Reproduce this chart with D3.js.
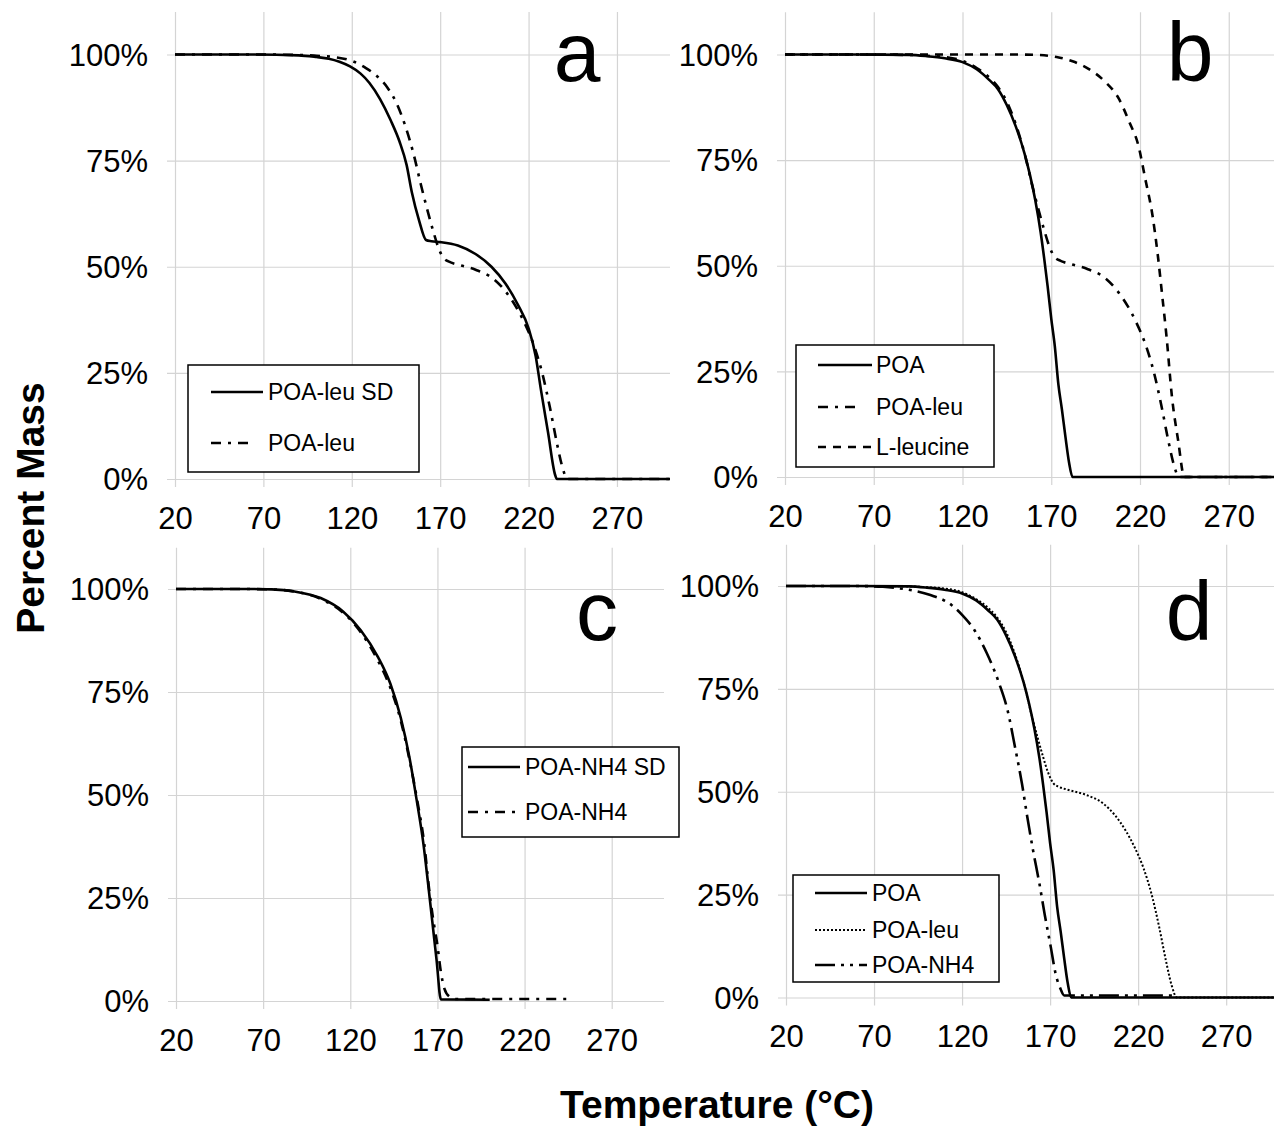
<!DOCTYPE html>
<html><head><meta charset="utf-8">
<script src="https://cdn.jsdelivr.net/npm/d3@7"></script>
<style>
body{margin:0;background:#fff}
svg{display:block}
text{font-family:"Liberation Sans",Arial,sans-serif;fill:#000}
</style>
</head><body>
<svg id="chart" width="1274" height="1129"></svg>
<script>
// ---------- data ----------
const panelLetters = ["a", "b", "c", "d"];
const tempTicks = [20, 70, 120, 170, 220, 270];
const massTicks = [0, 25, 50, 75, 100];
const xTitle = "Temperature (°C)";
const yTitle = "Percent Mass";

const poaTemp = [20,60,90,100,110,120,128,135,140,145,150,155,158,161,164,166,168,170,172,174,176,178,180,182,300];
const poaMass = [100,100,99.9,99.6,99.1,98.2,96.5,94,91.8,88,83,76.5,71.5,65.5,58,51.8,45,37.5,31,22,16,9.5,3.5,0,0];

const poaLeuTemp = [20,60,90,100,110,120,128,134,140,145,150,155,159,163,166,169,172,175,180,190,200,207,213,218,223,228,232,236,239,242,300];
const poaLeuMass = [100,100,99.9,99.7,99.4,98.5,96.8,95,92.3,88.8,83.5,76.5,69.5,63,58.5,54.5,52,51.2,50.5,49.3,47.2,44.2,40.5,36.5,31.5,24.5,17,8.5,3,0,0];

const poaLeuSdTemp = [20,60,90,100,107,113,119,125,130,136,142,147,151,154,158,162,165,170,180,190,199,207,214,220,224,227,231,235,236,300];
const poaLeuSdMass = [100,100,99.8,99.4,99,98.3,97.2,95.5,93.3,89.5,84.5,79.5,74,67.5,61,56.3,56,55.8,55,53,50,46,41,35.5,29,21,11,1,0,0];

const leucineTemp = [20,100,150,162,173,182,191,200,208,214,219,223,227,230,232.5,235,238,241.5,245,300];
const leucineMass = [100,100,100,99.9,99.4,98.4,96.6,93.7,89.6,84,78.6,70.5,62,52.6,43,33,19,8.6,0,0];

const poaNh4SdTemp = [20,60,75,88,103,116,126,136,143,149,154,158,162,164.5,167,169.5,172,200];
const poaNh4SdMass = [100,100,99.9,99.4,97.8,94.5,90,83.4,77,68.7,59,49,38,29,19.5,10,0.4,0.3];

const poaNh4cTemp = [20,60,75,88,103,116,126,136,143,149,154,158.5,162.5,165,167.5,170,172,174,177,180,245];
const poaNh4cMass = [100,100,99.9,99.4,97.6,94.2,89.5,82.5,76,68,58.5,48.5,38,28,20,13.5,7,3,1,0.5,0.5];

const poaNh4dTemp = [20,60,75,88,102,114,120,127,134,141,146,150,154,157,160,164,167,170.5,173,176,178,240];
const poaNh4dMass = [100,100,99.8,99.2,97.8,95.4,93,89.3,83.7,76.4,69.5,61,52,44,36.5,27.5,20,12,6,2,0.5,0.5];

const seriesA = [
  {name: "POA-leu SD", temp: poaLeuSdTemp, mass: poaLeuSdMass, style: "solid"},
  {name: "POA-leu", temp: poaLeuTemp, mass: poaLeuMass, style: "dashdot"}
];
const seriesB = [
  {name: "POA", temp: poaTemp, mass: poaMass, style: "solid"},
  {name: "POA-leu", temp: poaLeuTemp, mass: poaLeuMass, style: "dashdot"},
  {name: "L-leucine", temp: leucineTemp, mass: leucineMass, style: "dash"}
];
const seriesC = [
  {name: "POA-NH4 SD", temp: poaNh4SdTemp, mass: poaNh4SdMass, style: "solid"},
  {name: "POA-NH4", temp: poaNh4cTemp, mass: poaNh4cMass, style: "dashdot"}
];
const seriesD = [
  {name: "POA", temp: poaTemp, mass: poaMass, style: "solid"},
  {name: "POA-leu", temp: poaLeuTemp, mass: poaLeuMass, style: "dot"},
  {name: "POA-NH4", temp: poaNh4dTemp, mass: poaNh4dMass, style: "longdashdotdot"}
];

// ---------- layout / styles ----------
const styles = {
  solid: {dash: null, width: 2.6},
  dashdot: {dash: "10,7,3,7", width: 2.6},
  dash: {dash: "8,7", width: 2.6},
  dot: {dash: "2,2", width: 2},
  longdashdotdot: {dash: "20,6,3,6,3,6", width: 2.6}
};

const panels = [
  {series: seriesA, x0: 175, x1: 670, y0: 479, y100: 54.5, letterX: 577, letterY: 81,
   legend: {box: [188, 365, 419, 472], rows: [392, 443], lx: [[211, 263], [211, 255]], tx: 268}},
  {series: seriesB, x0: 785, x1: 1282, y0: 477, y100: 54.5, letterX: 1190, letterY: 81,
   legend: {box: [796, 345, 994, 467], rows: [365, 407, 447], lx: [[818, 872], [818, 862], [818, 872]], tx: 876}},
  {series: seriesC, x0: 176, x1: 664, y0: 1001, y100: 589, letterX: 597, letterY: 640,
   legend: {box: [462, 747, 679, 837], rows: [767, 812], lx: [[468, 520], [468, 515]], tx: 525}},
  {series: seriesD, x0: 786, x1: 1279, y0: 997.5, y100: 586, letterX: 1189, letterY: 640,
   legend: {box: [793, 875, 999, 982], rows: [893, 930, 965], lx: [[815, 867], [815, 867], [815, 867]], tx: 872}}
];

const svg = d3.select("#chart");
const gridColor = "#d4d4d4";

panels.forEach((p, i) => {
  const x = d3.scaleLinear().domain([20, 300]).range([p.x0, p.x1]);
  const y = d3.scaleLinear().domain([0, 100]).range([p.y0, p.y100]);
  const top = y(110);
  const g = svg.append("g");

  // horizontal grid + y labels
  const ya = d3.axisLeft(y).tickValues(massTicks).tickFormat(d => d + "%")
    .tickSize(-(p.x1 - p.x0)).tickPadding(0);
  const yg = g.append("g").attr("transform", `translate(${p.x0},0)`).call(ya);
  yg.select(".domain").remove();
  yg.selectAll(".tick line").attr("x1", -8).attr("x2", p.x1 - p.x0)
    .attr("stroke", gridColor).attr("stroke-width", 1.2);
  yg.selectAll(".tick text").attr("x", -27).attr("dy", "0.35em")
    .attr("font-size", 31).attr("fill", "#000")
    .style("font-family", '"Liberation Sans", Arial, sans-serif');

  // vertical grid + x labels
  const xa = d3.axisBottom(x).tickValues(tempTicks).tickFormat(d3.format("d"))
    .tickSize(p.y0 - top);
  const xg = g.append("g").attr("transform", `translate(0,${top})`).call(xa);
  xg.select(".domain").remove();
  xg.selectAll(".tick line").attr("y1", 0).attr("y2", p.y0 - top + 8)
    .attr("stroke", gridColor).attr("stroke-width", 1.2);
  xg.selectAll(".tick text").attr("y", p.y0 - top + 50).attr("dy", null)
    .attr("font-size", 31).attr("fill", "#000")
    .style("font-family", '"Liberation Sans", Arial, sans-serif');

  // curves
  const line = d3.line().x(d => x(d[0])).y(d => y(d[1])).curve(d3.curveMonotoneX);
  p.series.forEach(s => {
    const pts = s.temp.map((t, k) => [t, s.mass[k]]);
    const st = styles[s.style];
    g.append("path").datum(pts).attr("d", line)
      .attr("fill", "none").attr("stroke", "#000")
      .attr("stroke-width", st.width)
      .attr("stroke-dasharray", st.dash);
  });

  // panel letter
  g.append("text").attr("x", p.letterX).attr("y", p.letterY)
    .attr("text-anchor", "middle").attr("font-size", 84).text(panelLetters[i]);

  // legend
  const L = p.legend;
  g.append("rect").attr("x", L.box[0]).attr("y", L.box[1])
    .attr("width", L.box[2] - L.box[0]).attr("height", L.box[3] - L.box[1])
    .attr("fill", "#fff").attr("stroke", "#000").attr("stroke-width", 1.5);
  p.series.forEach((s, k) => {
    const st = styles[s.style];
    const ry = L.rows[k];
    g.append("line").attr("x1", L.lx[k][0]).attr("x2", L.lx[k][1]).attr("y1", ry).attr("y2", ry)
      .attr("stroke", "#000").attr("stroke-width", st.width).attr("stroke-dasharray", st.dash);
    g.append("text").attr("x", L.tx).attr("y", ry).attr("dy", "0.35em")
      .attr("font-size", 23).attr("fill", "#222").text(s.name);
  });
});

// axis titles
svg.append("text").attr("x", 717).attr("y", 1118).attr("text-anchor", "middle")
  .attr("font-size", 39).attr("font-weight", "bold").text(xTitle);
svg.append("text").attr("transform", "translate(44,508) rotate(-90)")
  .attr("text-anchor", "middle").attr("font-size", 39).attr("font-weight", "bold").text(yTitle);
</script>
</body></html>
